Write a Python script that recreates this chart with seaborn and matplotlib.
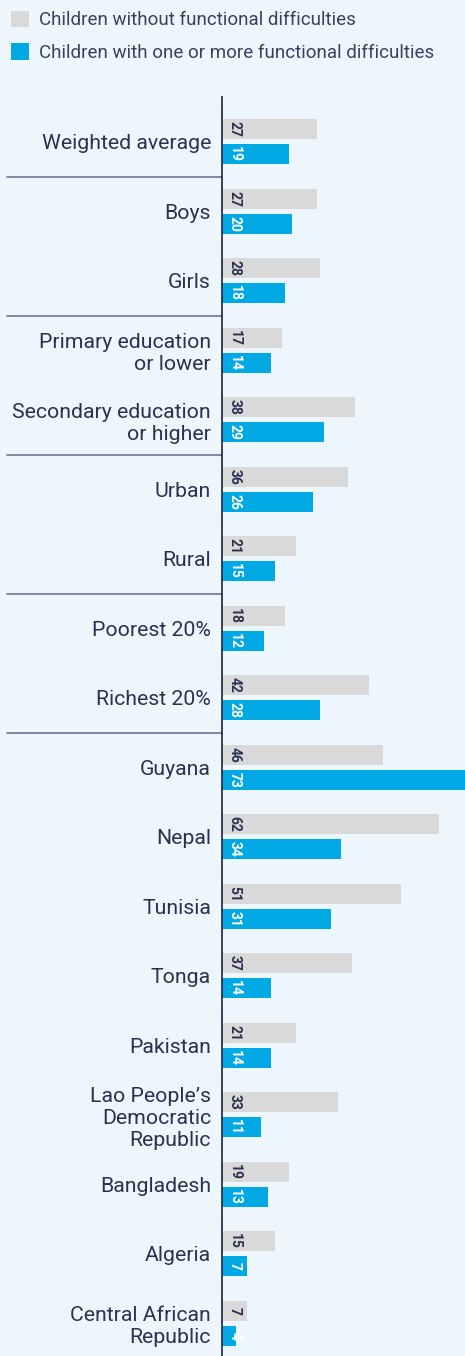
import pandas as pd
import seaborn as sns
import matplotlib.pyplot as plt

# Data

groups = ['Weighted average', 'Boys', 'Girls',
          'Primary education\nor lower', 'Secondary education\nor higher',
          'Urban', 'Rural', 'Poorest 20%', 'Richest 20%',
          'Guyana', 'Nepal', 'Tunisia', 'Tonga', 'Pakistan',
          'Lao People\u2019s\nDemocratic\nRepublic', 'Bangladesh', 'Algeria',
          'Central African\nRepublic']
without_diff = [27, 27, 28, 17, 38, 36, 21, 18, 42, 46, 62, 51, 37, 21, 33, 19, 15, 7]
with_diff = [19, 20, 18, 14, 29, 26, 15, 12, 28, 73, 34, 31, 14, 14, 11, 13, 7, 4]
series = ['Children without functional difficulties',
          'Children with one or more functional difficulties']
separators_after = ['Weighted average', 'Girls', 'Secondary education\nor higher',
                    'Rural', 'Richest 20%']

bg = '#EEF6FD'
grey = '#D9D9D9'
blue = '#00A9E4'
navy = '#2B3150'

df = pd.DataFrame({'group': groups * 2,
                   'value': without_diff + with_diff,
                   'series': [series[0]] * len(groups) + [series[1]] * len(groups)})

sns.set_style('white')
plt.rcParams['font.family'] = ['Roboto', 'DejaVu Sans']

fig = plt.figure(figsize=(4.65, 13.56), dpi=100, facecolor=bg)
ax = fig.add_axes([222 / 465, 0, 243 / 465, 1 - 97 / 1356])
ax.set_facecolor(bg)

sns.barplot(data=df, x='value', y='group', hue='series', orient='h', order=groups,
            hue_order=series, palette=[grey, blue], width=0.72, gap=0.2,
            saturation=1, linewidth=0, ax=ax)

ax.set_xlim(0, 243 / 3.5)
ax.set_ylim(17.47, -0.644)
ax.set_xlabel('')
ax.set_ylabel('')
ax.set_xticks([])
ax.tick_params(axis='y', length=0, pad=8, labelsize=15.3, labelcolor=navy)
for s in ['top', 'right', 'bottom']:
    ax.spines[s].set_visible(False)
ax.spines['left'].set_color(navy)
ax.spines['left'].set_linewidth(1.3)

# value labels inside bars
for container, col in zip(ax.containers, [navy, 'white']):
    for patch in container:
        yc = patch.get_y() + patch.get_height() / 2
        val = patch.get_width()
        ax.text(3.6, yc, f'{val:.0f}', rotation=-90, ha='center', va='center',
                fontsize=10, fontweight='bold', color=col)

# group separators
for name in separators_after:
    i = groups.index(name)
    ax.plot([-61.4, 0], [i + 0.5, i + 0.5], color='#7C89A3', lw=1.4, clip_on=False)

sns.move_legend(ax, 'upper left', bbox_to_anchor=(0.007, 0.9975),
                bbox_transform=fig.transFigure, frameon=False, title=None,
                fontsize=13.5, handlelength=0.95, handleheight=0.95,
                handletextpad=0.55, labelspacing=0.75, borderaxespad=0)
for t in ax.get_legend().get_texts():
    t.set_color('#3A4060')

fig.savefig('out.png', dpi=100, facecolor=bg)
